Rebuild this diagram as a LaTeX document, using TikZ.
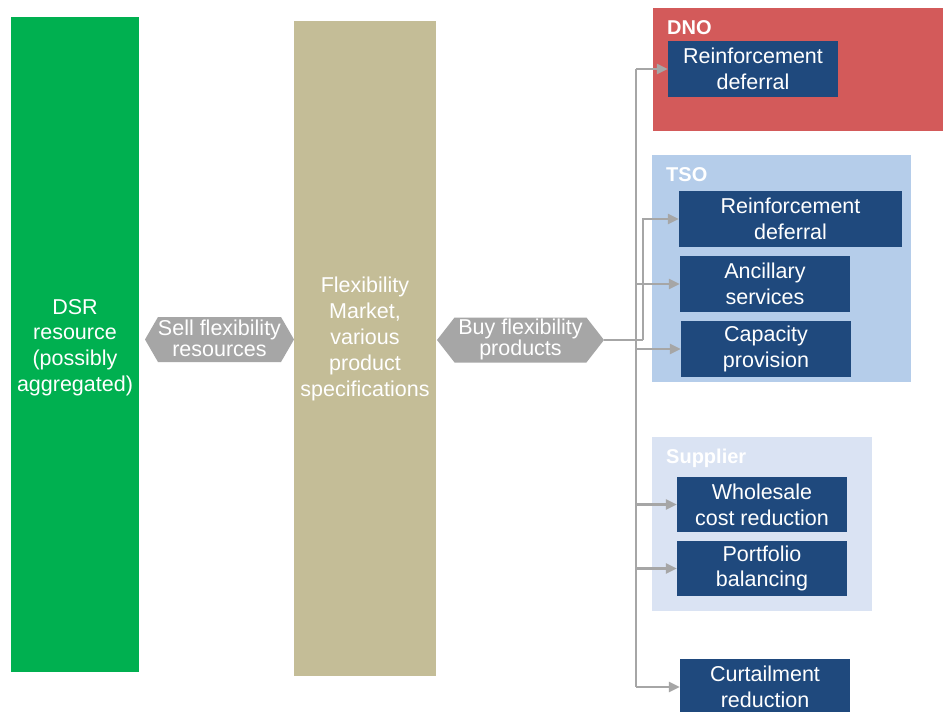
\documentclass[tikz,border=0pt]{standalone}
\usepackage{fontspec}
\setmainfont{Liberation Sans}
\usetikzlibrary{arrows.meta,shapes.symbols}

\definecolor{dsrgreen}{HTML}{00B050}
\definecolor{markettan}{HTML}{C4BD97}
\definecolor{dnored}{HTML}{D35A5A}
\definecolor{tsoblue}{HTML}{B5CDEA}
\definecolor{supplierblue}{HTML}{DAE3F3}
\definecolor{servicenavy}{HTML}{1F497D}
\definecolor{linkgray}{HTML}{A6A6A6}

\tikzset{
  bodytext/.style={font=\fontsize{21.5}{25.8}\selectfont, text=white, align=center},
  column/.style={rectangle, inner sep=0pt},
  service/.style={rectangle, fill=servicenavy, inner sep=0pt, bodytext},
  groupbox/.style={rectangle, inner sep=0pt},
  grouplabel/.style={anchor=west, inner sep=0pt, text=white, font=\bfseries\fontsize{20}{24}\selectfont},
  hexa/.style={signal, signal to=west and east, fill=linkgray, draw=none, inner sep=0pt},
  hexatext/.style={inner sep=0pt, text=white, align=center, font=\fontsize{21.5}{21}\selectfont},
  link/.style={draw=linkgray, line width=2.8pt},
  linkarrow/.style={link, -{Triangle[length=11pt,width=10pt]}}
}

\begin{document}
\begin{tikzpicture}[x=1pt,y=-1pt]
\clip (0,0) rectangle (943,712);
\fill[white] (0,0) rectangle (943,712);

% left and middle columns
\node[column, fill=dsrgreen, minimum width=128pt, minimum height=655pt] (dsr) at (75,344.5) {};
\node[bodytext, inner sep=0pt] (dsrText) at (75,347.5)
  {DSR\\resource\\(possibly\\aggregated)};
\node[column, fill=markettan, minimum width=142pt, minimum height=655pt] (market) at (365,348.5) {};
\node[bodytext, inner sep=0pt] (marketText) at (365,339)
  {Flexibility\\Market,\\various\\product\\specifications};

% sell / buy hexagons
\node[hexa, signal pointer angle=120, minimum width=149pt, minimum height=45pt] (sell) at (219.5,339.5) {};
\node[hexatext] (sellText) at (219.5,338) {Sell flexibility\\resources};
\node[hexa, signal pointer angle=104, minimum width=167pt, minimum height=45pt] (buy) at (520.5,340) {};
\node[hexatext] (buyText) at (520.5,339) {Buy flexibility\\products};

% buyer groups
\node[groupbox, fill=dnored, minimum width=292pt, minimum height=123pt] (dno) at (799,69.5) {};
\node[grouplabel] (dnoLabel) at (667,27.5) {DNO};
\node[groupbox, fill=tsoblue, minimum width=259pt, minimum height=227pt] (tso) at (781.5,268.5) {};
\node[grouplabel] (tsoLabel) at (666,175) {TSO};
\node[groupbox, fill=supplierblue, minimum width=220pt, minimum height=174pt] (supplier) at (762,524) {};
\node[grouplabel] (supplierLabel) at (666,458.5) {Supplier};

% services
\node[service, minimum width=170pt, minimum height=56pt] (dnoR) at (753,69) {Reinforcement\\deferral};
\node[service, minimum width=223pt, minimum height=56pt] (tsoR) at (790.5,219) {Reinforcement\\deferral};
\node[service, minimum width=170pt, minimum height=56pt] (anc) at (765,284) {Ancillary\\services};
\node[service, minimum width=170pt, minimum height=56pt] (cap) at (766,349) {Capacity\\provision};
\node[service, minimum width=170pt, minimum height=55pt] (whole) at (762,504.5) {Wholesale\\cost reduction};
\node[service, minimum width=170pt, minimum height=55pt] (port) at (762,568.5) {Portfolio\\balancing};
\node[service, minimum width=170pt, minimum height=56pt] (curt) at (765,687) {Curtailment\\reduction};

% connectors
\coordinate (trunkTop) at (636,69);
\coordinate (trunkBot) at (636,687);
\coordinate (tsoJoin) at (643,340);
\draw[link] (trunkTop) -- (trunkBot);
\draw[link] (buy.east) -- (tsoJoin);
\draw[linkarrow] (tsoJoin) |- (tsoR.west);
\draw[linkarrow] (trunkTop) -- (dnoR.west);
\draw[linkarrow] (anc.west -| trunkTop) -- (anc.west);
\draw[linkarrow] (cap.west -| trunkTop) -- (cap.west);
\draw[linkarrow] (whole.west -| trunkTop) -- (whole.west);
\draw[linkarrow] (port.west -| trunkTop) -- (port.west);
\draw[linkarrow] (trunkBot) -- (curt.west);
\end{tikzpicture}
\end{document}
